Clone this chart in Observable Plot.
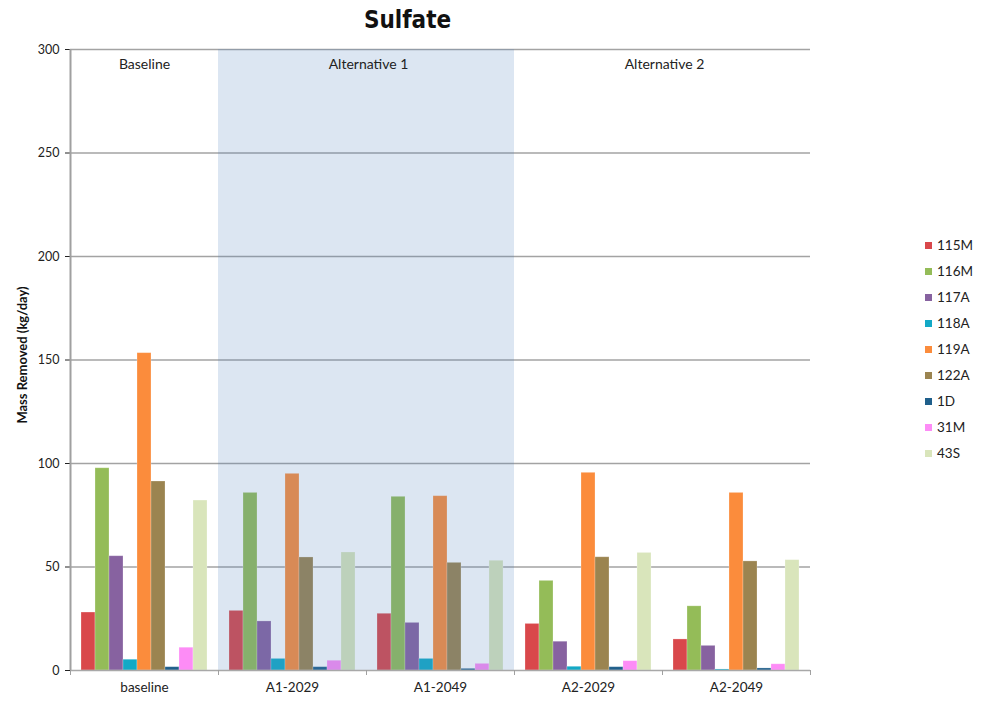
<!DOCTYPE html>
<html><head><meta charset="utf-8">
<script src="https://cdn.jsdelivr.net/npm/d3@7"></script>
<script src="https://cdn.jsdelivr.net/npm/@observablehq/plot@0.6"></script>
<style>
body{margin:0;background:#fff;}
#wrap{position:relative;width:986px;height:702px;}
#legend{position:absolute;left:925px;top:232px;font-family:Lato,"Open Sans",sans-serif;font-size:13.5px;color:#222;}
.item{display:flex;align-items:center;height:26px;}
.sw{width:7px;height:7px;margin-right:5px;}
</style></head><body><div id="wrap"><div id="legend"></div></div>
<script>
const groups = ["baseline", "A1-2029", "A1-2049", "A2-2029", "A2-2049"];
const series = ["115M", "116M", "117A", "118A", "119A", "122A", "1D", "31M", "43S"];
const colors = ["#d9484b", "#94bc58", "#8762a0", "#13a9c6", "#fb8c3c", "#9b8450", "#1f5f8b", "#fd8cf6", "#d9e5bb"];
const v115M = [28, 28.8, 27.4, 22.5, 15];
const v116M = [97.7, 85.8, 83.9, 43.3, 31];
const v117A = [55.2, 23.7, 23, 13.9, 11.9];
const v118A = [5.2, 5.6, 5.6, 1.8, 0.5];
const v119A = [153.3, 95, 84.2, 95.5, 85.8];
const v122A = [91.3, 54.6, 52, 54.7, 52.7];
const v1D = [1.6, 1.6, 0.8, 1.6, 1];
const v31M = [11, 4.7, 3.2, 4.5, 3];
const v43S = [82.1, 57, 53, 56.8, 53.3];
const yTicks = [0, 50, 100, 150, 200, 250, 300];
const sections = [
  {group: "baseline", label: "Baseline", anchor: "top"},
  {group: "A1-2029", label: "Alternative 1", anchor: "top-right"},
  {group: "A2-2029", label: "Alternative 2", anchor: "top-right"}
];
const shaded = ["A1-2029", "A1-2049"];
const title = "Sulfate";
const yLabel = "Mass Removed (kg/day)";

const valuesBySeries = [v115M, v116M, v117A, v118A, v119A, v122A, v1D, v31M, v43S];
const table = [];
series.forEach((s, i) => groups.forEach((g, j) => table.push({group: g, series: s, value: valuesBySeries[i][j]})));

const font = "Lato, 'Open Sans', sans-serif";
const chart = Plot.plot({
  width: 986, height: 702,
  marginLeft: 70, marginRight: 176, marginTop: 49, marginBottom: 32,
  style: {fontFamily: font, fontSize: "12.5px", color: "#222", background: "white", overflow: "visible"},
  fx: {domain: groups, padding: 0, round: false, axis: "bottom", tickSize: 0, tickPadding: 12, label: null, tickFormat: d => d},
  x: {domain: series, paddingInner: 0, paddingOuter: 0.786, round: false, axis: null},
  y: {domain: [0, 300], ticks: yTicks, tickSize: 5, tickPadding: 6, label: null},
  color: {domain: series, range: colors},
  marks: [
    Plot.ruleY(yTicks.filter(d => d > 0), {stroke: "#a3a3a3", strokeWidth: 1.5}),
    Plot.barY(table, {fx: "group", x: "series", y: "value", fill: "series", stroke: "white", strokeOpacity: 0.3, strokeWidth: 0.8}),
    Plot.barY(shaded, {fx: d => d, y1: 0, y2: 300, fill: "#4f81bd", fillOpacity: 0.2}),
    Plot.ruleY([0], {stroke: "#a8a8a8", strokeWidth: 1.5}),
    Plot.ruleX(["baseline"], {fx: d => d, x: () => "115M", y1: 0, y2: 300, dx: -18, stroke: "#a0a0a0", strokeWidth: 2}),
    Plot.ruleX(groups, {fx: d => d, x: () => "115M", y1: 0, y2: 0, insetTop: 5, dx: -18, stroke: "#a0a0a0", strokeWidth: 1}),
    Plot.ruleX(["A2-2049"], {fx: d => d, x: () => "43S", y1: 0, y2: 0, insetTop: 5, dx: 18, stroke: "#a0a0a0", strokeWidth: 1}),
    Plot.text(sections, {fx: "group", text: "label", frameAnchor: "top", filter: d => d.anchor === "top", dy: 15, lineAnchor: "middle", fontSize: 14, fill: "#222"}),
    Plot.text(sections, {fx: "group", text: "label", frameAnchor: "top-right", filter: d => d.anchor === "top-right", textAnchor: "middle", dx: 2, dy: 15, lineAnchor: "middle", fontSize: 14, fill: "#222"}),
    Plot.text([title], {fx: () => "A1-2049", text: d => d, frameAnchor: "top-left", dx: 41, dy: -29, textAnchor: "middle", lineAnchor: "middle", fontSize: 24, fontWeight: "bold", fontFamily: "'DejaVu Sans Condensed', 'DejaVu Sans', sans-serif", fill: "#111"}),
    Plot.text([yLabel], {fx: () => "baseline", text: d => d, frameAnchor: "left", dx: -48, dy: -5, rotate: -90, textAnchor: "middle", lineAnchor: "middle", fontSize: 13, fontWeight: "bold", fill: "#111"})
  ]
});
chart.querySelectorAll("g[aria-label='fx-axis tick label'] text, g[aria-label='fx-axis'] text").forEach(t => t.setAttribute("font-size", "13.5"));
document.getElementById("wrap").prepend(chart);

const legend = document.getElementById("legend");
series.forEach((s, i) => {
  const item = document.createElement("div");
  item.className = "item";
  item.innerHTML = `<span class="sw" style="background:${colors[i]}"></span><span>${s}</span>`;
  legend.appendChild(item);
});
</script></body></html>
